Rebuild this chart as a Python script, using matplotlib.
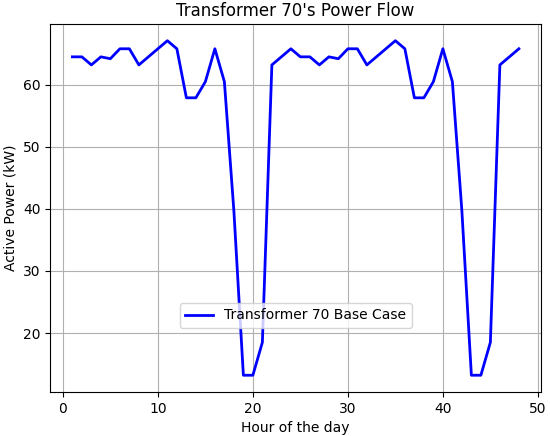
import matplotlib
matplotlib.use("Agg")
import matplotlib.pyplot as plt

# hours 1..48 (two days)
hours = list(range(1, 49))
day_profile = [64.5, 64.5, 63.2, 64.5, 64.2, 65.8, 65.8, 63.2, 64.5, 65.8,
               67.1, 65.8, 57.9, 57.9, 60.5, 65.8, 60.5, 39.7, 13.2, 13.2,
               18.5, 63.2, 64.5, 65.8]
power_kw = day_profile + day_profile

fig = plt.figure(figsize=(5.5, 4.36), dpi=100)
ax = fig.add_axes([0.091, 0.101, 0.893, 0.844])
ax.plot(hours, power_kw, color='blue', linewidth=2, label='Transformer 70 Base Case')
ax.set_title("Transformer 70's Power Flow")
ax.set_xlabel('Hour of the day')
ax.set_ylabel('Active Power (kW)')
ax.grid(True)
ax.legend(loc='lower center', bbox_to_anchor=(0.5, 0.155))
fig.savefig('out.png')
